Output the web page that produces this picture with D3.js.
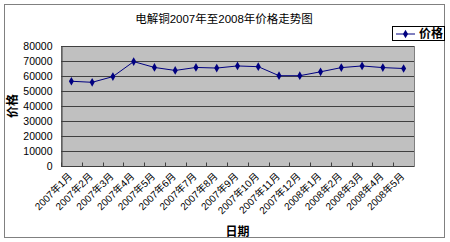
<!DOCTYPE html>
<html>
<head>
<meta charset="utf-8">
<script src="https://cdn.jsdelivr.net/npm/d3@7"></script>
<style>
  body { margin: 0; background: #fff; }
  svg { display: block; }
</style>
</head>
<body>
<svg id="chart" width="450" height="242"></svg>
<script>
// data
var months = ["2007年1月", "2007年2月", "2007年3月", "2007年4月", "2007年5月", "2007年6月",
              "2007年7月", "2007年8月", "2007年9月", "2007年10月", "2007年11月", "2007年12月",
              "2008年1月", "2008年2月", "2008年3月", "2008年4月", "2008年5月"];
var prices = [56500, 55800, 59600, 69600, 65700, 63700, 65700, 65300, 66700, 66200,
              60200, 60200, 62800, 65600, 66700, 65600, 65000];
var yTicks = [0, 10000, 20000, 30000, 40000, 50000, 60000, 70000, 80000];

var font = "'Liberation Sans', 'Noto Sans CJK SC', sans-serif";
var svg = d3.select("#chart");

// outer chart frame
svg.append("rect")
  .attr("x", 4.5).attr("y", 4.5)
  .attr("width", 440).attr("height", 233)
  .attr("fill", "#fff")
  .attr("stroke", "#808080");

var plot = { left: 61, top: 46, right: 414, bottom: 166 };

var x = d3.scaleBand()
  .domain(months)
  .range([plot.left, plot.right]);

var y = d3.scaleLinear()
  .domain([0, 80000])
  .range([plot.bottom, plot.top]);

// plot background
svg.append("rect")
  .attr("x", plot.left + 0.5).attr("y", plot.top + 0.5)
  .attr("width", plot.right - plot.left).attr("height", plot.bottom - plot.top)
  .attr("fill", "#c0c0c0")
  .attr("stroke", "#808080");

// gridlines
svg.append("g")
  .selectAll("line")
  .data(yTicks.filter(function(d) { return d > 0; }))
  .enter().append("line")
  .attr("x1", plot.left).attr("x2", plot.right)
  .attr("y1", function(d) { return Math.round(y(d)) + 0.5; })
  .attr("y2", function(d) { return Math.round(y(d)) + 0.5; })
  .attr("stroke", "#404040")
  .attr("stroke-width", 1);

// y axis (no tick marks, just labels)
var yAxis = svg.append("g")
  .attr("transform", "translate(" + (plot.left + 0.5) + ",0.5)")
  .call(d3.axisLeft(y).tickValues(yTicks).tickSize(0).tickPadding(9).tickFormat(d3.format("d")));
yAxis.select(".domain").attr("stroke", "#404040");
yAxis.selectAll("text")
  .attr("font-family", font)
  .attr("font-size", "10.5px")
  .attr("fill", "#000");

// x axis, ticks at category edges pointing into the plot
var xAxis = svg.append("g")
  .attr("transform", "translate(0," + (plot.bottom + 0.5) + ")");
xAxis.append("line")
  .attr("x1", plot.left).attr("x2", plot.right)
  .attr("stroke", "#404040");
xAxis.selectAll(".tk")
  .data(months)
  .enter().append("line")
  .attr("class", "tk")
  .attr("x1", function(d) { return Math.round(x(d)) + 0.5; })
  .attr("x2", function(d) { return Math.round(x(d)) + 0.5; })
  .attr("y1", 0).attr("y2", -4)
  .attr("stroke", "#404040");
xAxis.selectAll("text")
  .data(months)
  .enter().append("text")
  .attr("transform", function(d) {
    return "translate(" + (x(d) + x.bandwidth() / 2 - 1) + ",8) rotate(-45)";
  })
  .attr("text-anchor", "end")
  .attr("dy", "0.35em")
  .attr("font-family", font)
  .attr("font-size", "10px")
  .attr("fill", "#000")
  .text(function(d) { return d; });

// price line
var line = d3.line()
  .x(function(d, i) { return x(months[i]) + x.bandwidth() / 2; })
  .y(function(d) { return y(d); });

svg.append("path")
  .datum(prices)
  .attr("d", line)
  .attr("fill", "none")
  .attr("stroke", "#000080")
  .attr("stroke-width", 1);

var diamond = d3.symbol().type(d3.symbolDiamond).size(22);
svg.selectAll(".pt")
  .data(prices)
  .enter().append("path")
  .attr("class", "pt")
  .attr("transform", function(d, i) {
    return "translate(" + (x(months[i]) + x.bandwidth() / 2) + "," + y(d) + ")";
  })
  .attr("d", diamond)
  .attr("fill", "#000080");

// titles
svg.append("text")
  .attr("x", 224).attr("y", 23)
  .attr("text-anchor", "middle")
  .attr("font-family", font)
  .attr("font-size", "11.5px")
  .attr("fill", "#000")
  .text("电解铜2007年至2008年价格走势图");

svg.append("text")
  .attr("transform", "translate(17," + ((plot.top + plot.bottom) / 2) + ") rotate(-90)")
  .attr("text-anchor", "middle")
  .attr("font-family", font)
  .attr("font-size", "12px")
  .attr("font-weight", "bold")
  .attr("fill", "#000")
  .text("价格");

svg.append("text")
  .attr("x", (plot.left + plot.right) / 2).attr("y", 236)
  .attr("text-anchor", "middle")
  .attr("font-family", font)
  .attr("font-size", "12px")
  .attr("font-weight", "bold")
  .attr("fill", "#000")
  .text("日期");

// legend
var legend = svg.append("g").attr("transform", "translate(392,26)");
legend.append("rect")
  .attr("x", 0.5).attr("y", 0.5)
  .attr("width", 52).attr("height", 14)
  .attr("fill", "#fff")
  .attr("stroke", "#000");
legend.append("line")
  .attr("x1", 4).attr("x2", 23)
  .attr("y1", 8).attr("y2", 8)
  .attr("stroke", "#000080");
legend.append("path")
  .attr("transform", "translate(13.5,8)")
  .attr("d", diamond)
  .attr("fill", "#000080");
legend.append("text")
  .attr("x", 27).attr("y", 12)
  .attr("font-family", font)
  .attr("font-size", "12px")
  .attr("font-weight", "bold")
  .attr("fill", "#000")
  .text("价格");
</script>
</body>
</html>
